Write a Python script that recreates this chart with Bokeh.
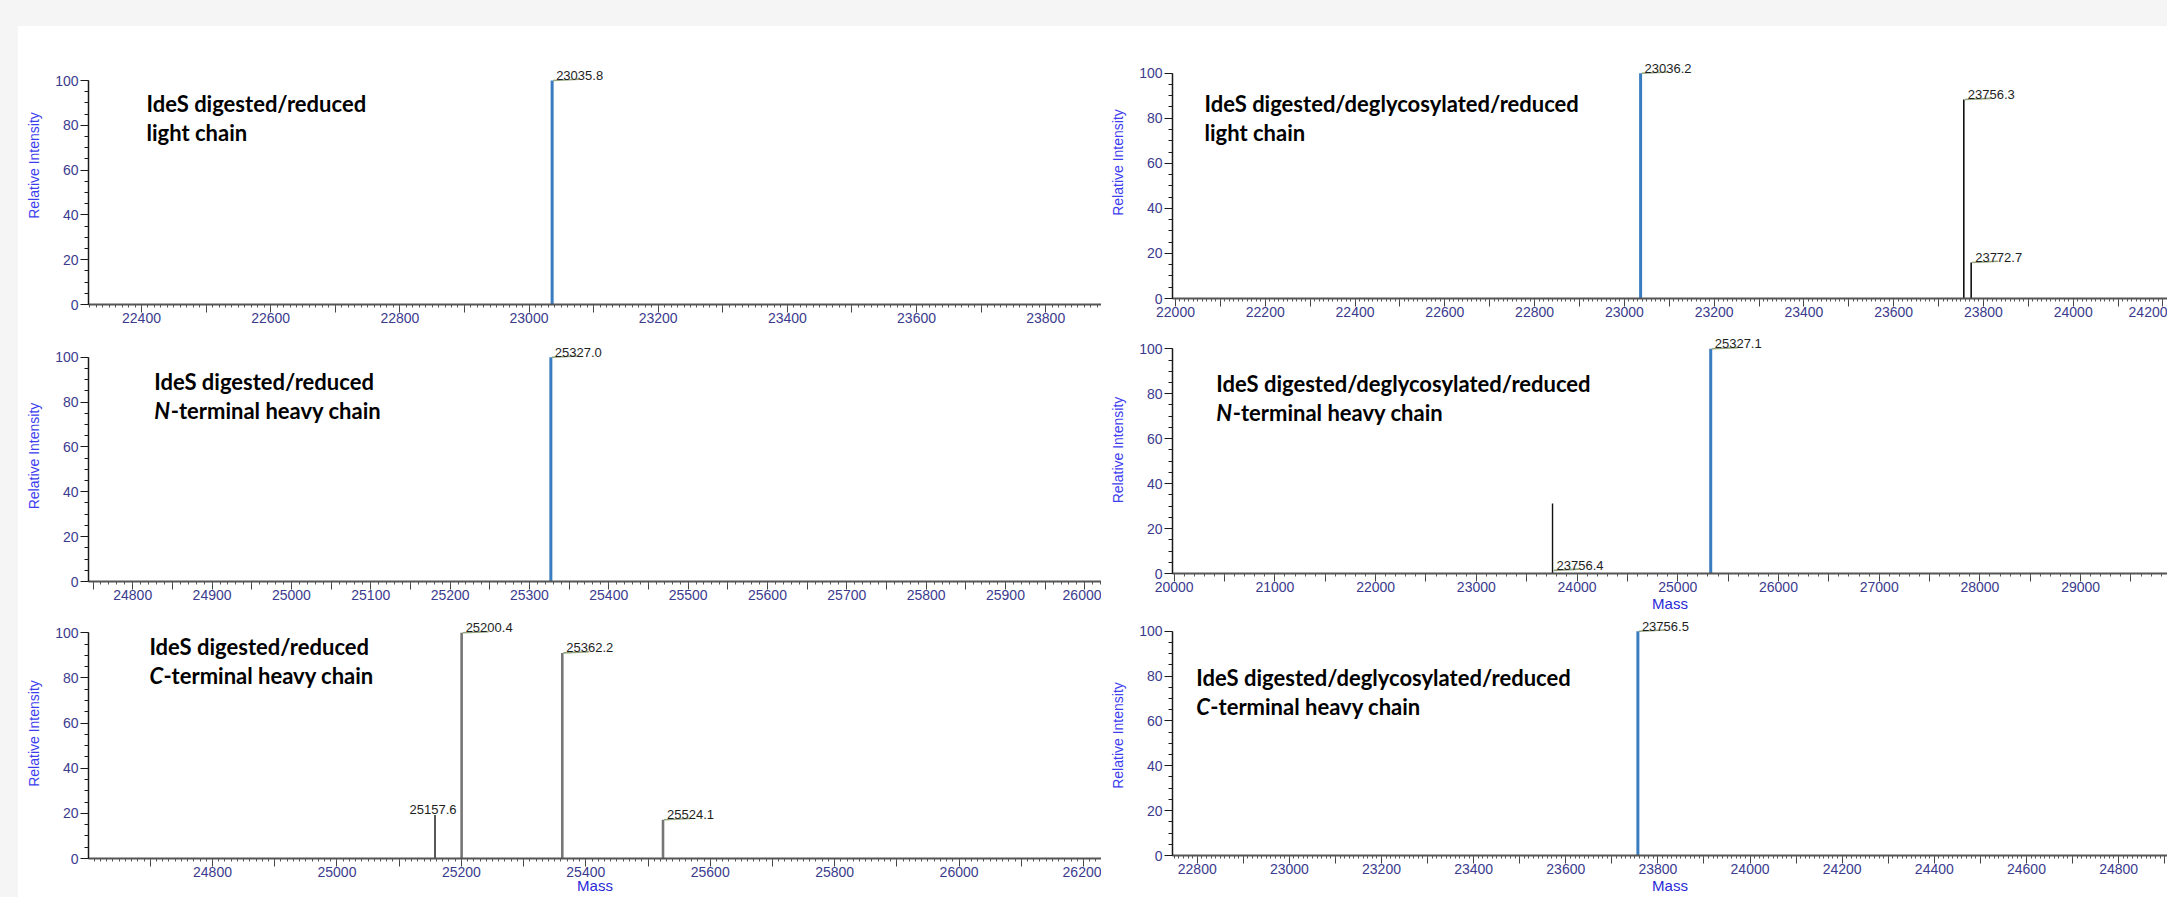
import numpy as np
from bokeh.plotting import figure
from bokeh.models import FixedTicker, Div, ColumnDataSource
from bokeh.layouts import column, row
from bokeh.embed import file_html
from bokeh.resources import INLINE
from bokeh.core.properties import value

# ---------------- data ----------------
lc_red_mass = [23035.8]
lc_red_int = [100.0]

lc_degly_mass = [23036.2, 23756.3, 23772.7]
lc_degly_int = [100.0, 88.3, 16.0]

nhc_red_mass = [25327.0]
nhc_red_int = [100.0]

nhc_degly_mass = [23756.4, 25327.1]
nhc_degly_int = [31.2, 100.0]
nhc_degly_label_at = [1.4, 100.0]

chc_red_mass = [25157.6, 25200.4, 25362.2, 25524.1]
chc_red_int = [19.3, 100.0, 91.1, 17.2]

chc_degly_mass = [23756.5]
chc_degly_int = [100.0]

y_ticks = [0, 20, 40, 60, 80, 100]
y_label = "Relative Intensity"
x_label = "Mass"

title_red = "IdeS digested/reduced"
title_degly = "IdeS digested/deglycosylated/reduced"
sub_lc = ("", "light chain")
sub_n = ("N", "-terminal heavy chain")
sub_c = ("C", "-terminal heavy chain")

# ---------------- styles ----------------
BLUE = "#3a7cc0"
BLACK = "#111111"
GREY_PEAK = "#767676"
TICK_C = "#3b3b8e"
YLAB_C = "#3d3df0"
XLAB_C = "#2a2ad8"
LEAD_C = "#93a57f"
SANS = "Liberation Sans"
GREY_BG = "#f5f5f5"

panels = [
    dict(mass=lc_red_mass, inten=lc_red_int, label_at=None,
         colors=[BLUE], widths=[3], label_align=["left"],
         fig_left=18, top=26, w=1083, h=304, mbl=70, mbb=26,
         calib=(22400, 141.0, 23800, 1045.2), y100=80.0,
         major=100, label_every=200, minor=10,
         title=(title_red, sub_lc), tpos=(146, 102.5), xlabel=False, xls=0),
    dict(mass=lc_degly_mass, inten=lc_degly_int, label_at=None,
         colors=[BLUE, BLACK, BLACK], widths=[3, 1.6, 1.6], label_align=["left", "left", "left"],
         fig_left=1101, top=26, w=1066, h=300, mbl=71, mbb=28,
         calib=(22000, 1175.0, 24000, 2072.7), y100=72.7,
         major=100, label_every=200, minor=10,
         title=(title_degly, sub_lc), tpos=(1204, 102.5), xlabel=False, xls=0),
    dict(mass=nhc_red_mass, inten=nhc_red_int, label_at=None,
         colors=[BLUE], widths=[3], label_align=["left"],
         fig_left=18, top=330, w=1083, h=278, mbl=66, mbb=27,
         calib=(24800, 128.4, 25900, 1004.6), y100=356.7,
         major=50, label_every=100, minor=10,
         title=(title_red, sub_n), tpos=(150, 381.4), xlabel=False, xls=0),
    dict(mass=nhc_degly_mass, inten=nhc_degly_int, label_at=nhc_degly_label_at,
         colors=[BLACK, BLUE], widths=[1.4, 3], label_align=["left", "left"],
         fig_left=1101, top=326, w=1066, h=289, mbl=66, mbb=42,
         calib=(20000, 1168.7, 29000, 2079.7), y100=348.3,
         major=500, label_every=1000, minor=100,
         title=(title_degly, sub_n), tpos=(1211, 383.4), xlabel=True, xls=0),
    dict(mass=chc_red_mass, inten=chc_red_int, label_at=None,
         colors=[BLACK, GREY_PEAK, GREY_PEAK, GREY_PEAK], widths=[1.4, 2.6, 2.6, 2.6],
         label_align=["center", "left", "left", "left"],
         fig_left=18, top=608, w=1083, h=289, mbl=68, mbb=39,
         calib=(24600, 85.6, 26000, 958.3), y100=632.3,
         major=100, label_every=200, minor=10,
         title=(title_red, sub_c), tpos=(147, 646.4), xlabel=True, xls=-3),
    dict(mass=chc_degly_mass, inten=chc_degly_int, label_at=None,
         colors=[BLUE], widths=[3], label_align=["left"],
         fig_left=1101, top=615, w=1066, h=282, mbl=65, mbb=42,
         calib=(22800, 1190.9, 24800, 2117.8), y100=630.7,
         major=100, label_every=200, minor=10,
         title=(title_degly, sub_c), tpos=(1190, 677.4), xlabel=True, xls=0),
]

ITALIC_W = {"N": 16.5, "C": 14.0}


def make_panel(c):
    fl = c["fig_left"] + c["mbl"]
    fr = c["fig_left"] + c["w"]
    ft = c["top"]
    fb = c["top"] + c["h"] - c["mbb"]
    va, pa, vb, pb = c["calib"]
    ppu = (pb - pa) / (vb - va)
    x0 = va - (pa - fl) / ppu
    x1 = va + (fr - pa) / ppu
    ypu = (fb - c["y100"]) / 100.0
    y1 = (fb - ft) / ypu

    def X(px):
        return x0 + (px - fl) / ppu

    def Y(py):
        return (fb - py) / ypu

    p = figure(width=c["w"], height=c["h"], x_range=(x0, x1), y_range=(0, y1),
               output_backend="svg", toolbar_location=None,
               min_border_left=c["mbl"], min_border_right=0, min_border_top=0,
               min_border_bottom=c["mbb"], outline_line_color=None,
               background_fill_color="white", border_fill_color="white")
    p.grid.visible = False

    # x axis
    start = int(np.ceil(x0 / c["major"]) * c["major"])
    major = [int(v) for v in np.arange(start, x1 + 1e-6, c["major"])]
    mstart = int(np.ceil(x0 / c["minor"]) * c["minor"])
    minor = [int(v) for v in np.arange(mstart, x1 + 1e-6, c["minor"])]
    xa = p.xaxis[0]
    xa.ticker = FixedTicker(ticks=major, minor_ticks=minor)
    xa.major_label_overrides = {t: "" for t in major if t % c["label_every"] != 0}
    xa.axis_line_color = "#555555"
    xa.axis_line_width = 2
    xa.major_tick_line_color = "#444444"
    xa.minor_tick_line_color = "#555555"
    xa.major_tick_out = 8
    xa.major_tick_in = 0
    xa.minor_tick_out = 3
    xa.minor_tick_in = 0
    xa.major_label_standoff = 0
    xa.major_label_text_font = SANS
    xa.major_label_text_font_size = "14px"
    xa.major_label_text_color = TICK_C
    if c["xlabel"]:
        xa.axis_label = x_label
        xa.axis_label_text_font = SANS
        xa.axis_label_text_font_size = "15px"
        xa.axis_label_text_font_style = "normal"
        xa.axis_label_text_color = XLAB_C
        xa.axis_label_standoff = c["xls"]

    # y axis
    ya = p.yaxis[0]
    ya.bounds = (0, 100)
    ya.ticker = FixedTicker(ticks=y_ticks, minor_ticks=list(range(0, 101, 5)))
    ya.axis_line_color = "#1a1a1a"
    ya.axis_line_width = 1.5
    ya.major_tick_line_color = "#1a1a1a"
    ya.minor_tick_line_color = "#1a1a1a"
    ya.major_tick_out = 8
    ya.major_tick_in = 0
    ya.minor_tick_out = 4
    ya.minor_tick_in = 0
    ya.major_label_standoff = 2
    ya.major_label_text_font = SANS
    ya.major_label_text_font_size = "14px"
    ya.major_label_text_color = TICK_C
    ya.axis_label = y_label
    ya.axis_label_text_font = SANS
    ya.axis_label_text_font_size = "14px"
    ya.axis_label_text_font_style = "normal"
    ya.axis_label_text_color = YLAB_C
    ya.axis_label_standoff = 10

    # peaks
    src = ColumnDataSource(dict(x=c["mass"], top=c["inten"], color=c["colors"], lw=c["widths"]))
    p.segment(x0="x", y0=0, x1="x", y1="top", line_color="color", line_width="lw", source=src)

    # peak labels with leader
    lab_y = c["label_at"] if c["label_at"] is not None else c["inten"]
    for m, ly, al in zip(c["mass"], lab_y, c["label_align"]):
        txt = f"{m:.1f}"
        if al == "left":
            p.segment(x0=[m + 1 / ppu], y0=[ly], x1=[m + 27 / ppu], y1=[ly + 1.2 / ypu],
                      line_color=LEAD_C, line_width=1.6)
            p.text(x=[m], y=[ly], text=[txt], x_offset=4, y_offset=-5,
                   text_font=value(SANS), text_font_size="13px",
                   text_color="#1e1e1e", text_align="left", text_baseline="alphabetic")
        else:
            p.text(x=[m], y=[ly], text=[txt], x_offset=-2, y_offset=-5,
                   text_font=value(SANS), text_font_size="13px",
                   text_color="#1e1e1e", text_align="center", text_baseline="alphabetic")

    # panel title (two lines)
    t1, (pre, rest) = c["title"]
    tx, ty = c["tpos"]
    kw = dict(text_font=value("Lato"), text_font_size="22px", text_color="black",
              text_align="left", text_baseline="alphabetic")
    p.text(x=[X(tx)], y=[Y(ty)], text=[t1], text_font_style="bold", **kw)
    if pre:
        p.text(x=[X(tx)], y=[Y(ty + 29)], text=[pre], text_font_style="bold italic", **kw)
        p.text(x=[X(tx)], y=[Y(ty + 29)], text=[rest], text_font_style="bold",
               x_offset=ITALIC_W[pre], **kw)
    else:
        p.text(x=[X(tx)], y=[Y(ty + 29)], text=[rest], text_font_style="bold", **kw)
    return p


figs = [make_panel(c) for c in panels]
top_strip = Div(text="", width=2167, height=26, margin=(0, 0, 0, 0),
                styles={"background-color": GREY_BG})
left_strip = Div(text="", width=18, height=871, margin=(0, 0, 0, 0),
                 styles={"background-color": GREY_BG})
layout = column(top_strip,
                row(left_strip,
                    column(figs[0], figs[2], figs[4]),
                    column(figs[1], figs[3], figs[5])))

open("out.html", "w").write(file_html(layout, INLINE))
